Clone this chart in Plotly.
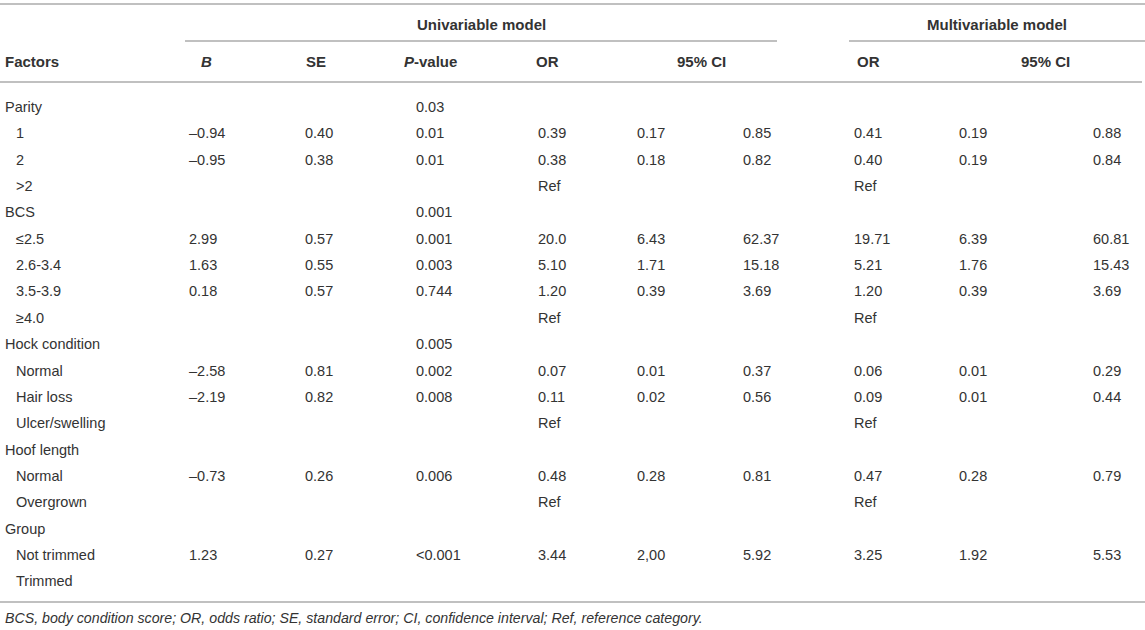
import plotly.graph_objects as go

# ---------------- data ----------------
groups = ["Parity", "BCS", "Hock condition", "Hoof length", "Group"]
group_p = ["0.03", "0.001", "0.005", "", ""]
levels = [
    ["1", "2", ">2"],
    ["≤2.5", "2.6-3.4", "3.5-3.9", "≥4.0"],
    ["Normal", "Hair loss", "Ulcer/swelling"],
    ["Normal", "Overgrown"],
    ["Not trimmed", "Trimmed"],
]
B_vals = ["–0.94", "–0.95", "", "2.99", "1.63", "0.18", "", "–2.58", "–2.19", "", "–0.73", "", "1.23", ""]
SE_vals = ["0.40", "0.38", "", "0.57", "0.55", "0.57", "", "0.81", "0.82", "", "0.26", "", "0.27", ""]
P_vals = ["0.01", "0.01", "", "0.001", "0.003", "0.744", "", "0.002", "0.008", "", "0.006", "", "<0.001", ""]
OR_uni = ["0.39", "0.38", "Ref", "20.0", "5.10", "1.20", "Ref", "0.07", "0.11", "Ref", "0.48", "Ref", "3.44", ""]
CI_uni_lo = ["0.17", "0.18", "", "6.43", "1.71", "0.39", "", "0.01", "0.02", "", "0.28", "", "2,00", ""]
CI_uni_hi = ["0.85", "0.82", "", "62.37", "15.18", "3.69", "", "0.37", "0.56", "", "0.81", "", "5.92", ""]
OR_multi = ["0.41", "0.40", "Ref", "19.71", "5.21", "1.20", "Ref", "0.06", "0.09", "Ref", "0.47", "Ref", "3.25", ""]
CI_multi_lo = ["0.19", "0.19", "", "6.39", "1.76", "0.39", "", "0.01", "0.01", "", "0.28", "", "1.92", ""]
CI_multi_hi = ["0.88", "0.84", "", "60.81", "15.43", "3.69", "", "0.29", "0.44", "", "0.79", "", "5.53", ""]

col_headers = ["<i>B</i>", "SE", "<i>P</i>-value", "OR", "95% CI", "OR", "95% CI"]
spanners = ["Univariable model", "Multivariable model"]
footnote = "BCS, body condition score; OR, odds ratio; SE, standard error; CI, confidence interval; Ref, reference category."

# ---------------- layout constants ----------------
W, H = 1145, 630
TXT = "#333333"
LINE = "#ababab"
FONT = "Liberation Sans, Arial, sans-serif"
BODY = 14.5
HEAD = 15
NOTE = 14.2

value_cols = [B_vals, SE_vals, P_vals, OR_uni, CI_uni_lo, CI_uni_hi, OR_multi, CI_multi_lo, CI_multi_hi]
value_x = [187, 303, 414, 536, 635, 741, 852, 957, 1091]
header_x = [206, 316, 430, 547, 701, 868, 1045]
row_y0, row_dy = 107, 26.35


def esc(s):
    return s.replace("<", "&lt;").replace(">", "&gt;")


ann = []


def add(text, x, y, anchor="left", size=BODY):
    ann.append(dict(text=esc(text), x=x, y=y, xref="x", yref="y", xanchor=anchor, yanchor="middle",
                    showarrow=False, font=dict(family=FONT, size=size, color=TXT)))


# body rows
r = 0
k = 0
for g, gp, levs in zip(groups, group_p, levels):
    y = row_y0 + r * row_dy
    add(g, 3, y)
    if gp:
        add(gp, value_x[2], y)
    r += 1
    for lev in levs:
        y = row_y0 + r * row_dy
        add(lev, 14, y)
        for col, xv in zip(value_cols, value_x):
            if col[k]:
                add(col[k], xv, y)
        r += 1
        k += 1

# headers
ann.append(dict(text="<b>Factors</b>", x=3, y=61, xref="x", yref="y", xanchor="left", yanchor="middle",
                showarrow=False, font=dict(family=FONT, size=HEAD, color=TXT)))
for h, hx in zip(col_headers, header_x):
    ann.append(dict(text="<b>" + h + "</b>", x=hx, y=61, xref="x", yref="y", xanchor="center",
                    yanchor="middle", showarrow=False, font=dict(family=FONT, size=HEAD, color=TXT)))
span_x = [(185, 777), (849, 1145)]
for s, (a, b) in zip(spanners, span_x):
    ann.append(dict(text="<b>" + s + "</b>", x=(a + b) / 2, y=24, xref="x", yref="y", xanchor="center",
                    yanchor="middle", showarrow=False, font=dict(family=FONT, size=HEAD, color=TXT)))

# footnote
ann.append(dict(text="<i>" + footnote + "</i>", x=3, y=618, xref="x", yref="y", xanchor="left",
                yanchor="middle", showarrow=False, font=dict(family=FONT, size=NOTE, color=TXT)))

shapes = []


def hline(x0, x1, y):
    shapes.append(dict(type="line", xref="x", yref="y", x0=x0, x1=x1, y0=y, y1=y,
                       line=dict(color=LINE, width=1.6)))


hline(0, 1145, 4)
for a, b in span_x:
    hline(a, b, 41)
hline(0, 1142, 82)
hline(0, 1145, 602)

fig = go.Figure(go.Scatter(x=[1], y=[1], mode="markers", marker=dict(opacity=0),
                           hoverinfo="skip", showlegend=False))
fig.update_layout(
    width=W, height=H, margin=dict(l=0, r=0, t=0, b=0, pad=0),
    paper_bgcolor="white", plot_bgcolor="white",
    xaxis=dict(range=[0, W], visible=False, fixedrange=True),
    yaxis=dict(range=[H, 0], visible=False, fixedrange=True),
    annotations=ann, shapes=shapes, showlegend=False,
)
fig.write_html(
    "out.html",
    config={"displayModeBar": False},
    post_script="document.body.style.margin='0';document.body.style.overflow='hidden';",
)
